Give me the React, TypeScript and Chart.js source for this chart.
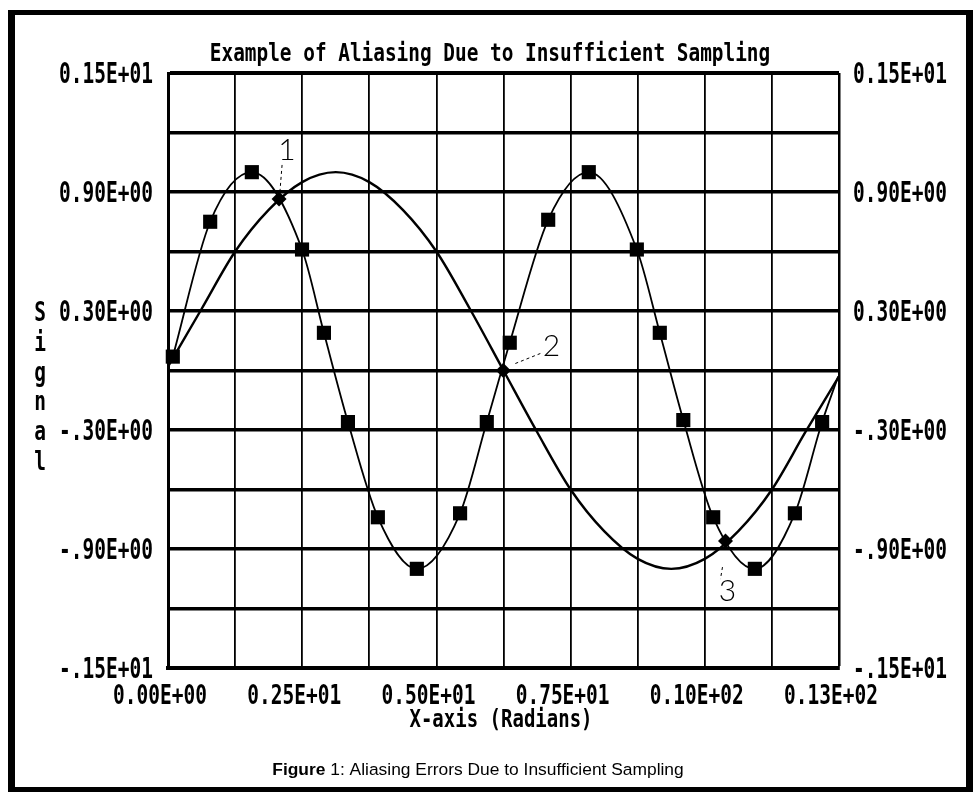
import React, { useEffect, useRef } from 'react';
import { Chart, registerables } from 'chart.js';

Chart.register(...registerables);

// ---------- text ----------
const TITLE = 'Example of Aliasing Due to Insufficient Sampling';
const X_TITLE = 'X-axis (Radians)';
const Y_TITLE = 'Signal';
const CAPTION_BOLD = 'Figure';
const CAPTION_REST = ' 1: Aliasing Errors Due to Insufficient Sampling';

// ---------- axes ----------
const xMin = 0;
const xMax = 12.566;
const xGridValues = [0, 1.257, 2.513, 3.77, 5.027, 6.283, 7.54, 8.796, 10.053, 11.31, 12.566];
const xLabelValues = [0, 2.513, 5.027, 7.54, 10.053, 12.566];
const xTickLabels = ['0.00E+00', '0.25E+01', '0.50E+01', '0.75E+01', '0.10E+02', '0.13E+02'];

const yMin = -1.5;
const yMax = 1.5;
const yGridValues = [1.5, 1.2, 0.9, 0.6, 0.3, 0, -0.3, -0.6, -0.9, -1.2, -1.5];
const yLabelValues = [1.5, 0.9, 0.3, -0.3, -0.9, -1.5];
const yTickLabels = ['0.15E+01', '0.90E+00', '0.30E+00', '-.30E+00', '-.90E+00', '-.15E+01'];

// ---------- series ----------
// sampled (fast) signal, squares mark the samples
const sampledX = [0.09, 0.79, 1.57, 2.51, 2.92, 3.37, 3.93, 4.66, 5.47, 5.97, 6.4, 7.12, 7.88, 8.78, 9.21, 9.65, 10.21, 10.99, 11.74, 12.25, 12.55];
const sampledY = [0.07, 0.75, 1.0, 0.61, 0.19, -0.26, -0.74, -1.0, -0.72, -0.26, 0.14, 0.76, 1.0, 0.61, 0.19, -0.25, -0.74, -1.0, -0.72, -0.26, -0.03];
const sampledHasMarker = [true, true, true, true, true, true, true, true, true, true, true, true, true, true, true, true, true, true, true, true, false];

// aliased (slow) signal
const slowX = [0, 0.628, 1.257, 1.885, 2.513, 3.142, 3.77, 4.398, 5.027, 5.655, 6.283, 6.912, 7.54, 8.168, 8.796, 9.425, 10.053, 10.681, 11.31, 11.938, 12.566];
const slowY = [0.02, 0.31, 0.6, 0.81, 0.95, 1.0, 0.95, 0.81, 0.6, 0.31, 0.0, -0.31, -0.6, -0.81, -0.95, -1.0, -0.95, -0.81, -0.6, -0.31, -0.03];

// coincidence points
const crossX = [2.08, 6.28, 10.44];
const crossY = [0.865, 0.0, -0.86];
const crossLabels = ['1', '2', '3'];

// ---------- styles ----------
const MONO = '"DejaVu Sans Mono", "Liberation Mono", monospace';
const annotationStyle = [
  { dx: 8, dy: -49, l0: [3, -34], l1: [1, -9] },
  { dx: 48, dy: -24, l0: [12, -7], l1: [37, -17] },
  { dx: 2, dy: 50, l0: [-3, 26], l1: [-5, 38] },
];

function stretchText(
  ctx: CanvasRenderingContext2D,
  text: string,
  x: number,
  baseline: number,
  align: CanvasTextAlign,
  size: number,
  sy: number
) {
  ctx.save();
  ctx.font = `bold ${size}px ${MONO}`;
  ctx.textAlign = align;
  ctx.textBaseline = 'alphabetic';
  ctx.fillStyle = '#000';
  ctx.translate(x, baseline);
  ctx.scale(1, sy);
  ctx.fillText(text, 0, 0);
  ctx.restore();
}

const decorPlugin = {
  id: 'decor',
  afterDraw(chart: any) {
    const { ctx, chartArea, scales } = chart;
    const xs = scales.x;
    const ys = scales.y;
    ctx.save();
    // frame
    ctx.fillStyle = '#000';
    ctx.fillRect(8, 10, 965, 5);
    ctx.fillRect(8, 10, 7, 782);
    ctx.fillRect(966, 10, 7, 782);
    ctx.fillRect(8, 787, 965, 5);

    // title
    stretchText(ctx, TITLE, 490, 61, 'center', 19.4, 1.25);

    // y tick labels, both sides
    yLabelValues.forEach((v, i) => {
      const py = ys.getPixelForValue(v);
      stretchText(ctx, yTickLabels[i], chartArea.left - 15, py + 10, 'right', 19.5, 1.45);
      stretchText(ctx, yTickLabels[i], chartArea.right + 14, py + 10, 'left', 19.5, 1.45);
    });

    // x tick labels
    xLabelValues.forEach((v, i) => {
      const px = xs.getPixelForValue(v);
      stretchText(ctx, xTickLabels[i], px - 8, chartArea.bottom + 36, 'center', 19.5, 1.4);
    });

    // x title
    stretchText(ctx, X_TITLE, 501, chartArea.bottom + 59, 'center', 19, 1.3);

    // y title: stacked letters
    const p0 = ys.getPixelForValue(0.3);
    const p1 = ys.getPixelForValue(-0.3);
    const pitch = (p1 - p0) / 4;
    Y_TITLE.split('').forEach((ch, k) => {
      stretchText(ctx, ch, 40, p0 + k * pitch + 10, 'center', 19.5, 1.4);
    });

    // annotations 1, 2, 3
    crossLabels.forEach((lab, i) => {
      const px = xs.getPixelForValue(crossX[i]);
      const py = ys.getPixelForValue(crossY[i]);
      const a = annotationStyle[i];
      ctx.save();
      ctx.strokeStyle = '#000';
      ctx.lineWidth = 1;
      ctx.setLineDash([3, 3]);
      ctx.beginPath();
      ctx.moveTo(px + a.l0[0], py + a.l0[1]);
      ctx.lineTo(px + a.l1[0], py + a.l1[1]);
      ctx.stroke();
      ctx.setLineDash([]);
      ctx.font = '300 30px Lato, "DejaVu Sans", sans-serif';
      ctx.fillStyle = '#000';
      ctx.textAlign = 'center';
      ctx.textBaseline = 'middle';
      ctx.fillText(lab, px + a.dx, py + a.dy);
      ctx.restore();
    });

    // caption
    ctx.fillStyle = '#000';
    ctx.textBaseline = 'alphabetic';
    ctx.textAlign = 'left';
    const capSize = 17.4;
    ctx.font = `bold ${capSize}px "Liberation Sans", Arial, sans-serif`;
    const wb = ctx.measureText(CAPTION_BOLD).width;
    ctx.font = `${capSize}px "Liberation Sans", Arial, sans-serif`;
    const wr = ctx.measureText(CAPTION_REST).width;
    const start = 478 - (wb + wr) / 2;
    ctx.font = `bold ${capSize}px "Liberation Sans", Arial, sans-serif`;
    ctx.fillText(CAPTION_BOLD, start, 775);
    ctx.font = `${capSize}px "Liberation Sans", Arial, sans-serif`;
    ctx.fillText(CAPTION_REST, start + wb, 775);
    ctx.restore();
  },
};

export default function App() {
  const ref = useRef<HTMLCanvasElement>(null);

  useEffect(() => {
    if (!ref.current) return;
    const chart = new Chart(ref.current, {
      type: 'line',
      data: {
        datasets: [
          {
            label: 'Aliased',
            data: slowX.map((x, i) => ({ x, y: slowY[i] })),
            borderColor: '#000',
            borderWidth: 2.4,
            pointRadius: 0,
            cubicInterpolationMode: 'monotone',
            clip: false as any,
          },
          {
            label: 'Sampled',
            data: sampledX.map((x, i) => ({ x, y: sampledY[i] })),
            borderColor: '#000',
            borderWidth: 1.8,
            pointStyle: 'rect',
            pointRadius: sampledHasMarker.map((m) => (m ? 10 : 0)),
            pointBackgroundColor: '#000',
            pointBorderColor: '#000',
            pointBorderWidth: 0,
            cubicInterpolationMode: 'monotone',
            clip: false as any,
          },
          {
            label: 'Coincident',
            data: crossX.map((x, i) => ({ x, y: crossY[i] })),
            showLine: false,
            pointStyle: 'rectRot',
            pointRadius: 7.5,
            pointBackgroundColor: '#000',
            pointBorderColor: '#000',
            pointBorderWidth: 0,
            clip: false as any,
          },
        ],
      },
      options: {
        animation: false,
        responsive: false,
        events: [],
        layout: { padding: { left: 168, top: 73, right: 136, bottom: 127 } },
        plugins: {
          legend: { display: false },
          tooltip: { enabled: false },
          title: { display: false },
        },
        scales: {
          x: {
            type: 'linear',
            min: xMin,
            max: xMax,
            afterBuildTicks: (scale: any) => {
              scale.ticks = xGridValues.map((v) => ({ value: v }));
            },
            ticks: { display: false },
            grid: {
              color: '#000',
              lineWidth: (c: any) => (c.tick && c.tick.value === xMax ? 2.5 : 1.8),
              drawTicks: false,
            },
            border: { display: true, color: '#000', width: 4 },
          },
          y: {
            type: 'linear',
            min: yMin,
            max: yMax,
            afterBuildTicks: (scale: any) => {
              scale.ticks = yGridValues.map((v) => ({ value: v }));
            },
            ticks: { display: false },
            grid: {
              color: '#000',
              lineWidth: (c: any) => (c.tick && c.tick.value === yMax ? 4 : 3.5),
              drawTicks: false,
            },
            border: { display: true, color: '#000', width: 3 },
          },
        },
      },
      plugins: [decorPlugin],
    } as any);
    return () => chart.destroy();
  }, []);

  return (
    <div style={{ position: 'absolute', left: 0, top: 0, width: 975, height: 795, background: '#fff' }}>
      <canvas ref={ref} width={975} height={795} style={{ display: 'block' }} />
    </div>
  );
}
